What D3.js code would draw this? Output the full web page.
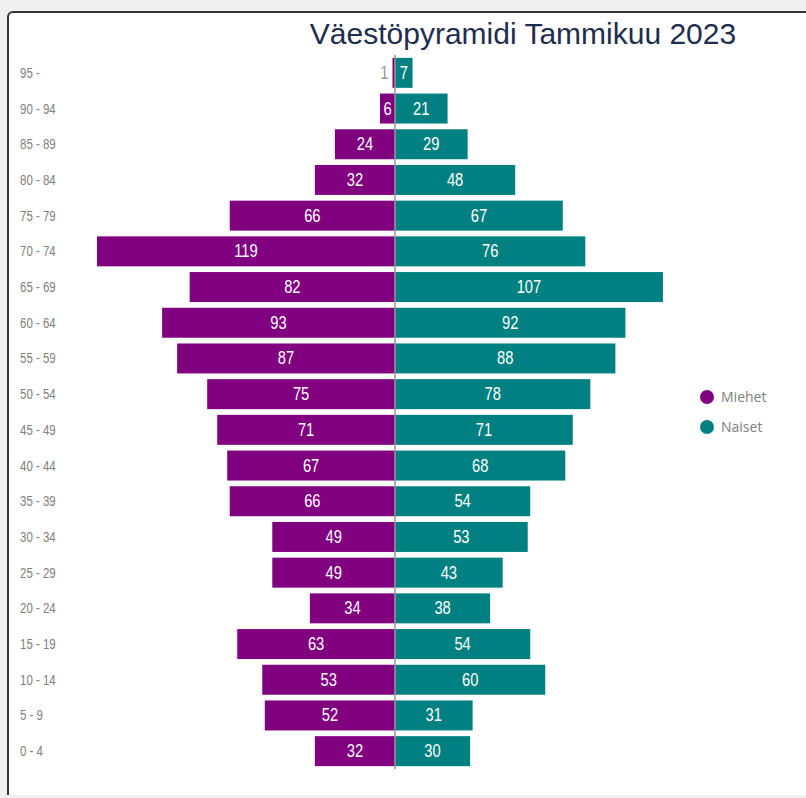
<!DOCTYPE html>
<html>
<head>
<meta charset="utf-8">
<script src="https://cdn.jsdelivr.net/npm/d3@7"></script>
<style>
  body { margin: 0; background: #f0f0f0; }
  svg { display: block; }
</style>
</head>
<body>
<script>
var width = 806;
var height = 798;

// age groups, top to bottom
var ageGroups = ["95 -", "90 - 94", "85 - 89", "80 - 84", "75 - 79", "70 - 74", "65 - 69",
                 "60 - 64", "55 - 59", "50 - 54", "45 - 49", "40 - 44", "35 - 39", "30 - 34",
                 "25 - 29", "20 - 24", "15 - 19", "10 - 14", "5 - 9", "0 - 4"];
var men   = [1, 6, 24, 32, 66, 119, 82, 93, 87, 75, 71, 67, 66, 49, 49, 34, 63, 53, 52, 32];
var women = [7, 21, 29, 48, 67, 76, 107, 92, 88, 78, 71, 68, 54, 53, 43, 38, 54, 60, 31, 30];
var seriesNames = ["Miehet", "Naiset"];
var colors = ["#800080", "#008080"];

var frame = d3.select("body").append("svg")
            .attr("width", width)
            .attr("height", height);

// panel with dark border (bottom edge runs off into the grey)
frame.append("rect")
     .attr("x", 8).attr("y", 12)
     .attr("width", width + 20).attr("height", 820)
     .attr("rx", 5)
     .attr("fill", "#fff")
     .attr("stroke", "#333")
     .attr("stroke-width", 2);
frame.append("rect")
     .attr("x", 0).attr("y", 795)
     .attr("width", width).attr("height", 10)
     .attr("fill", "#f0f0f0");

frame.append("text")
     .attr("x", 523).attr("y", 44)
     .attr("text-anchor", "middle")
     .attr("font-family", "Liberation Sans, Arial, sans-serif")
     .attr("font-size", 30)
     .attr("fill", "#1f2d4e")
     .text("Väestöpyramidi Tammikuu 2023");

var center = 395;
var x = d3.scaleLinear().domain([0, 119]).range([0, 298]);
var y = d3.scaleBand().domain(ageGroups).range([55, 769]).paddingInner(0.16).paddingOuter(0.08);

var labelFont = "Liberation Sans, Arial, sans-serif";
var squeeze = 0.82;

// age labels
frame.selectAll(".age")
     .data(ageGroups)
     .enter().append("text")
     .attr("transform", function(d) {
        return "translate(20," + (y(d) + y.bandwidth() / 2 + 5) + ") scale(" + squeeze + ",1)";
     })
     .attr("font-family", labelFont)
     .attr("font-size", 14)
     .attr("fill", "#808080")
     .text(function(d) { return d; });

// men bars (left)
frame.selectAll(".men")
     .data(men)
     .enter().append("rect")
     .attr("x", function(d) { return center - x(d); })
     .attr("y", function(d, i) { return y(ageGroups[i]); })
     .attr("width", function(d) { return x(d); })
     .attr("height", y.bandwidth())
     .attr("fill", colors[0]);

// women bars (right)
frame.selectAll(".women")
     .data(women)
     .enter().append("rect")
     .attr("x", center)
     .attr("y", function(d, i) { return y(ageGroups[i]); })
     .attr("width", function(d) { return x(d); })
     .attr("height", y.bandwidth())
     .attr("fill", colors[1]);

// center line
frame.append("line")
     .attr("x1", center).attr("x2", center)
     .attr("y1", y.range()[0]).attr("y2", y.range()[1])
     .attr("stroke", "#999")
     .attr("stroke-width", 1.5);

// value labels, small bars get their label outside
function valueX(d, side) {
  var w = x(d);
  if (w < 8) return side < 0 ? center - w - 4 : center + w + 4;
  return center + side * w / 2;
}

function drawValues(cls, values, side) {
  frame.selectAll("." + cls)
       .data(values)
       .enter().append("text")
       .attr("transform", function(d, i) {
          return "translate(" + valueX(d, side) + "," + (y(ageGroups[i]) + y.bandwidth() / 2 + 6) +
                 ") scale(" + squeeze + ",1)";
       })
       .attr("text-anchor", function(d) { return x(d) < 8 ? (side < 0 ? "end" : "start") : "middle"; })
       .attr("font-family", labelFont)
       .attr("font-size", 18)
       .attr("fill", function(d) { return x(d) < 8 ? "#999" : "#fff"; })
       .text(function(d) { return d; });
}
drawValues("menval", men, -1);
drawValues("womenval", women, 1);

// legend
var legend = frame.selectAll(".legend")
     .data(seriesNames)
     .enter().append("g")
     .attr("transform", function(d, i) { return "translate(707," + (397 + i * 30) + ")"; });

legend.append("circle")
      .attr("r", 7)
      .attr("fill", function(d, i) { return colors[i]; });

legend.append("text")
      .attr("x", 14)
      .attr("y", 5)
      .attr("font-family", "Open Sans, sans-serif")
      .attr("font-size", 14)
      .attr("fill", "#808080")
      .text(function(d) { return d; });
</script>
</body>
</html>
